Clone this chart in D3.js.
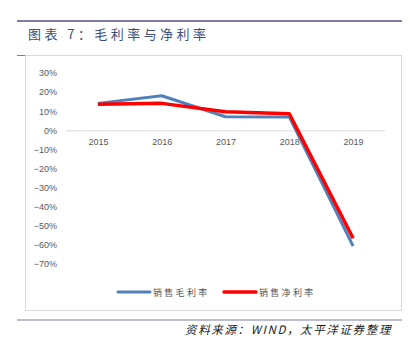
<!DOCTYPE html>
<html>
<head>
<meta charset="utf-8">
<script src="https://cdn.jsdelivr.net/npm/d3@7"></script>
<style>
  html, body { margin: 0; padding: 0; background: #fff; }
  svg { display: block; }
</style>
</head>
<body>
<svg id="chart" width="416" height="341"></svg>
<script>
// Years on the x axis
const years = ["2015", "2016", "2017", "2018", "2019"];
// Gross margin (销售毛利率), %
const grossMargin = [14.1, 18.1, 7.1, 7.0, -60.6];
// Net margin (销售净利率), %
const netMargin = [13.6, 14.1, 9.7, 8.7, -56.5];
// Y-axis ticks, %
const yTicks = [30, 20, 10, 0, -10, -20, -30, -40, -50, -60, -70];

const series = [
  { name: "销售毛利率", values: grossMargin, color: "#4f81bd", width: 3 },
  { name: "销售净利率", values: netMargin, color: "#ff0000", width: 3.5 }
];

const svg = d3.select("#chart");
const cjk = "'Noto Sans CJK SC', 'Noto Sans', sans-serif";
const latin = "'Liberation Sans', Arial, sans-serif";

// Header rule and title
svg.append("rect").attr("x", 17).attr("y", 20).attr("width", 385).attr("height", 2).attr("fill", "#7b7ca3");
svg.append("text").attr("x", 28).attr("y", 39)
  .attr("font-family", cjk).attr("font-size", 13).attr("fill", "#3c4f7c")
  .attr("textLength", 178).attr("lengthAdjust", "spacing")
  .text("图表 7：毛利率与净利率");

// Chart frame
svg.append("rect").attr("x", 25.5).attr("y", 55.5).attr("width", 376).attr("height", 255)
  .attr("fill", "none").attr("stroke", "#d9d9d9").attr("stroke-width", 1);
svg.append("line").attr("x1", 17).attr("x2", 25).attr("y1", 55.5).attr("y2", 55.5)
  .attr("stroke", "#7b7ca3").attr("stroke-width", 1);

// Scales
const x = d3.scalePoint().domain(years).range([66, 385]).padding(0.5);
const y = d3.scaleLinear().domain([-70, 30]).range([264, 73]);

// Y axis labels
const yAxis = d3.axisLeft(y).tickValues(yTicks).tickSize(0).tickPadding(0)
  .tickFormat(d => (d < 0 ? "\u2212" + Math.abs(d) : d) + "%");
const gy = svg.append("g").attr("transform", "translate(57,0)").call(yAxis);
gy.select(".domain").remove();
gy.selectAll("text").attr("font-family", latin).attr("font-size", 9).attr("fill", "#595959");

// Zero line with category labels
const xAxis = d3.axisBottom(x).tickSize(0).tickPadding(8);
const gx = svg.append("g").attr("transform", `translate(0,${y(0)})`).call(xAxis);
gx.select(".domain").attr("d", `M66,0.5H385`).attr("stroke", "#d9d9d9");
gx.selectAll("text").attr("font-family", latin).attr("font-size", 9).attr("fill", "#595959");

// Lines
const line = d3.line().x((d, i) => x(years[i])).y(d => y(d));
series.forEach(s => {
  svg.append("path").datum(s.values)
    .attr("d", line).attr("fill", "none")
    .attr("stroke", s.color).attr("stroke-width", s.width)
    .attr("stroke-linejoin", "round");
});

// Legend
const legendX = [118, 224];
series.forEach((s, i) => {
  const g = svg.append("g").attr("transform", `translate(${legendX[i]},292)`);
  g.append("line").attr("x1", 0).attr("x2", 32).attr("y1", 0).attr("y2", 0)
    .attr("stroke", s.color).attr("stroke-width", s.width).attr("stroke-linecap", "round");
  g.append("text").attr("x", 35).attr("y", 3.5)
    .attr("font-family", cjk).attr("font-size", 9).attr("letter-spacing", 2.3).attr("fill", "#595959")
    .text(s.name);
});

// Footer rule and source
svg.append("rect").attr("x", 17).attr("y", 319.5).attr("width", 385).attr("height", 1).attr("fill", "#7b7ca3");
svg.append("text").attr("x", 185).attr("y", 334)
  .attr("font-family", cjk).attr("font-size", 11.5).attr("letter-spacing", 1.6)
  .attr("font-style", "italic").attr("fill", "#1a1a1a")
  .attr("textLength", 207).attr("lengthAdjust", "spacing")
  .text("资料来源：WIND，太平洋证券整理");
</script>
</body>
</html>
